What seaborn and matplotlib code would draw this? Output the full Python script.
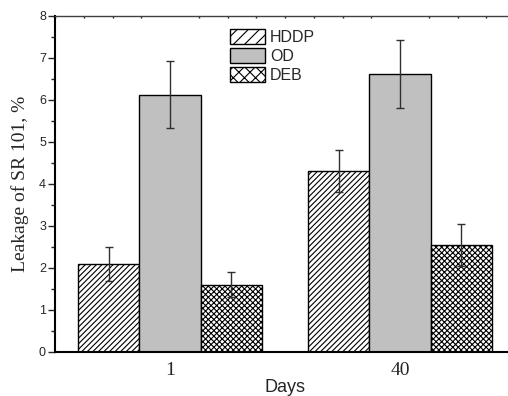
import seaborn as sns
import matplotlib.pyplot as plt
import numpy as np
import pandas as pd
from matplotlib.ticker import MultipleLocator

# valores
dias = ['1', '40']
amostras = ['HDDP', 'OD', 'DEB']
vazamento = {
    'HDDP': [2.10, 4.32],
    'OD': [6.13, 6.62],
    'DEB': [1.60, 2.55],
}
erro = {
    'HDDP': [0.40, 0.50],
    'OD': [0.80, 0.80],
    'DEB': [0.30, 0.50],
}
hachuras = {'HDDP': '///', 'OD': '', 'DEB': 'xxx'}
cores = {'HDDP': 'white', 'OD': '#c0c0c0', 'DEB': 'white'}


def gerar_grafico():
    linhas = []
    for a in amostras:
        for i, d in enumerate(dias):
            linhas.append({'Days': d, 'Amostra': a, 'Leakage': vazamento[a][i], 'Erro': erro[a][i]})
    df = pd.DataFrame(linhas)

    sns.set_style("ticks")
    plt.rcParams['hatch.linewidth'] = 0.8

    fig = plt.figure(figsize=(5.08, 3.96), dpi=100)
    ax = fig.add_axes([55 / 508, 44 / 396, 460 / 508, 336 / 396])

    sns.barplot(data=df, x='Days', y='Leakage', hue='Amostra', order=dias, hue_order=amostras,
                palette=cores, edgecolor='black', linewidth=1, errorbar=None, ax=ax)

    for cont, a in zip(ax.containers, amostras):
        for barra, e in zip(cont, erro[a]):
            barra.set_hatch(hachuras[a] * 2)
            barra.set_facecolor(cores[a])
            x = barra.get_x() + barra.get_width() / 2
            ax.errorbar(x, barra.get_height(), yerr=e, color='#303030', elinewidth=1,
                        capsize=3, capthick=1, fmt='none')

    ax.set_xlim(-0.5, 1.5)
    ax.set_ylim(0, 8)
    ax.yaxis.set_major_locator(MultipleLocator(1))
    ax.yaxis.set_minor_locator(MultipleLocator(0.5))
    ax.xaxis.set_minor_locator(MultipleLocator(0.125))

    ax.set_ylabel('Leakage of SR 101, %', fontsize=14, family='Liberation Serif', labelpad=7)
    ax.set_xlabel('Days', fontsize=13, family='Liberation Sans', labelpad=0)

    for rot in ax.get_xticklabels():
        rot.set_family('Liberation Serif')
        rot.set_fontsize(14)
    for rot in ax.get_yticklabels():
        rot.set_family('Liberation Sans')
        rot.set_fontsize(9)

    ax.tick_params(axis='y', which='major', length=5, width=1, pad=1.5, direction='out')
    ax.tick_params(axis='y', which='minor', length=3, width=1, direction='out')
    ax.tick_params(axis='x', which='major', length=0, pad=7)
    ax.tick_params(axis='x', which='minor', bottom=False, top=True, length=1.5, width=1,
                   direction='in', color='#202020')

    for lado in ['left', 'bottom']:
        ax.spines[lado].set_linewidth(1.5)
        ax.spines[lado].set_color('black')
    ax.spines['top'].set_linewidth(1)
    ax.spines['top'].set_color('#404040')
    ax.spines['right'].set_visible(False)

    leg = ax.legend(loc='upper left', bbox_to_anchor=(222 / 508, 1 - 21 / 396),
                    bbox_transform=fig.transFigure, frameon=False, borderpad=0,
                    handlelength=2.2, handleheight=1.05, handletextpad=0.3,
                    labelspacing=0.2, prop={'family': 'Liberation Sans', 'size': 11.5})
    for h, a in zip(leg.legend_handles, amostras):
        h.set_hatch(hachuras[a])
        h.set_facecolor(cores[a])
        h.set_edgecolor('black')

    plt.savefig('out.png', dpi=100)


if __name__ == "__main__":
    gerar_grafico()
